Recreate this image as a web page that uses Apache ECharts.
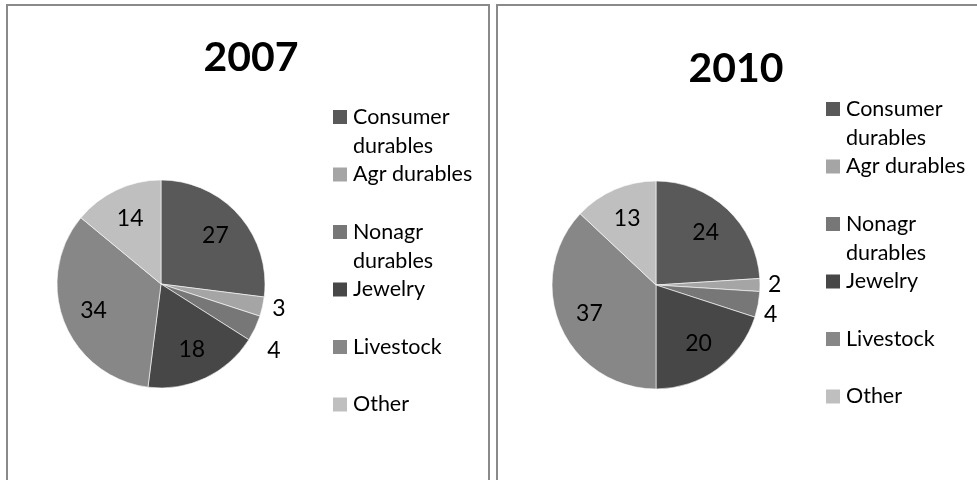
<!DOCTYPE html>
<html><head><meta charset="utf-8">
<script src="https://cdn.jsdelivr.net/npm/echarts@6/dist/echarts.min.js"></script>
<style>html,body{margin:0;padding:0;background:#fff}#c{width:977px;height:480px}</style>
</head><body><div id="c"></div>
<script>
const categories = ['Consumer durables', 'Agr durables', 'Nonagr durables', 'Jewelry', 'Livestock', 'Other'];
const legendLabels = ['Consumer\ndurables', 'Agr durables', 'Nonagr\ndurables', 'Jewelry', 'Livestock', 'Other'];
const titles = ['2007', '2010'];
const values2007 = [27, 3, 4, 18, 34, 14];
const values2010 = [24, 2, 4, 20, 37, 13];

const colors = ['#595959', '#a5a5a5', '#777777', '#474747', '#878787', '#bfbfbf'];
const FONT = 'Lato';

const panels = [
  { rect: { x: 7, y: 5, width: 482, height: 520 }, center: [161, 284], titleX: 251, titleY: 37, legendLeft: 331, outsideLH: 40,
    legendCenters: [117, 174.5, 232, 289.5, 347, 404.5], values: values2007 },
  { rect: { x: 497, y: 5, width: 520, height: 520 }, center: [656, 285], titleX: 736, titleY: 48, legendLeft: 824, outsideLH: 28,
    legendCenters: [109, 166.5, 224, 281.5, 339, 396.5], values: values2010 }
];

const series = [];
const legends = [];
const titleOpts = [];
const graphics = [];

panels.forEach((p, pi) => {
  graphics.push({ type: 'rect', shape: p.rect, style: { fill: 'none', stroke: '#8a8a8a', lineWidth: 2 }, silent: true, z: -1 });
  titleOpts.push({ text: titles[pi], left: p.titleX, top: p.titleY, textAlign: 'center', padding: 0,
    textStyle: { fontFamily: FONT, fontWeight: 'bold', fontSize: 41, color: '#000' } });
  const data = categories.map((n, i) => ({ name: n, value: p.values[i], itemStyle: { color: colors[i] } }));
  // visible pie with outside labels for small slices
  series.push({
    type: 'pie', radius: 104, center: p.center, startAngle: 90, clockwise: true, silent: true, animation: false,
    itemStyle: { borderWidth: 0.6, borderColor: '#ffffff', borderRadius: 0 },
    label: { position: 'outside', formatter: '{c}', fontFamily: FONT, fontSize: 23, color: '#000', lineHeight: p.outsideLH },
    labelLine: { show: false, length: 8, length2: 0 },
    data: data.map(d => Object.assign({}, d, { label: { show: d.value <= 5 } }))
  });
  // transparent overlay pie only used to place inside labels at ~2/3 radius
  series.push({
    type: 'pie', radius: 139, center: p.center, startAngle: 90, clockwise: true, silent: true, animation: false,
    itemStyle: { color: 'rgba(0,0,0,0)', borderWidth: 0 },
    label: { position: 'inside', formatter: '{c}', fontFamily: FONT, fontSize: 23, color: '#000' },
    labelLine: { show: false },
    data: data.map(d => ({ name: d.name, value: d.value, itemStyle: { color: 'rgba(0,0,0,0)' }, label: { show: d.value > 5 } }))
  });
  categories.forEach((n, i) => {
    const two = legendLabels[i].indexOf('\n') >= 0;
    const c = p.legendCenters[i];
    legends.push({
      data: [{ name: n, itemStyle: { color: colors[i] } }], left: p.legendLeft, top: c - (two ? 43.5 : 14.5),
      orient: 'vertical', icon: 'rect', itemWidth: 16, itemHeight: 16, itemGap: 0, padding: 0, selectedMode: false,
      formatter: () => (two ? ' \n' : '') + legendLabels[i],
      textStyle: { fontFamily: FONT, fontSize: 21.5, color: '#000', lineHeight: 29 }
    });
  });
});

const chart = echarts.init(document.getElementById('c'), null, { renderer: 'canvas' });
chart.setOption({
  backgroundColor: '#fff',
  animation: false,
  title: titleOpts,
  legend: legends,
  graphic: graphics,
  series: series
});
</script>
</body></html>
